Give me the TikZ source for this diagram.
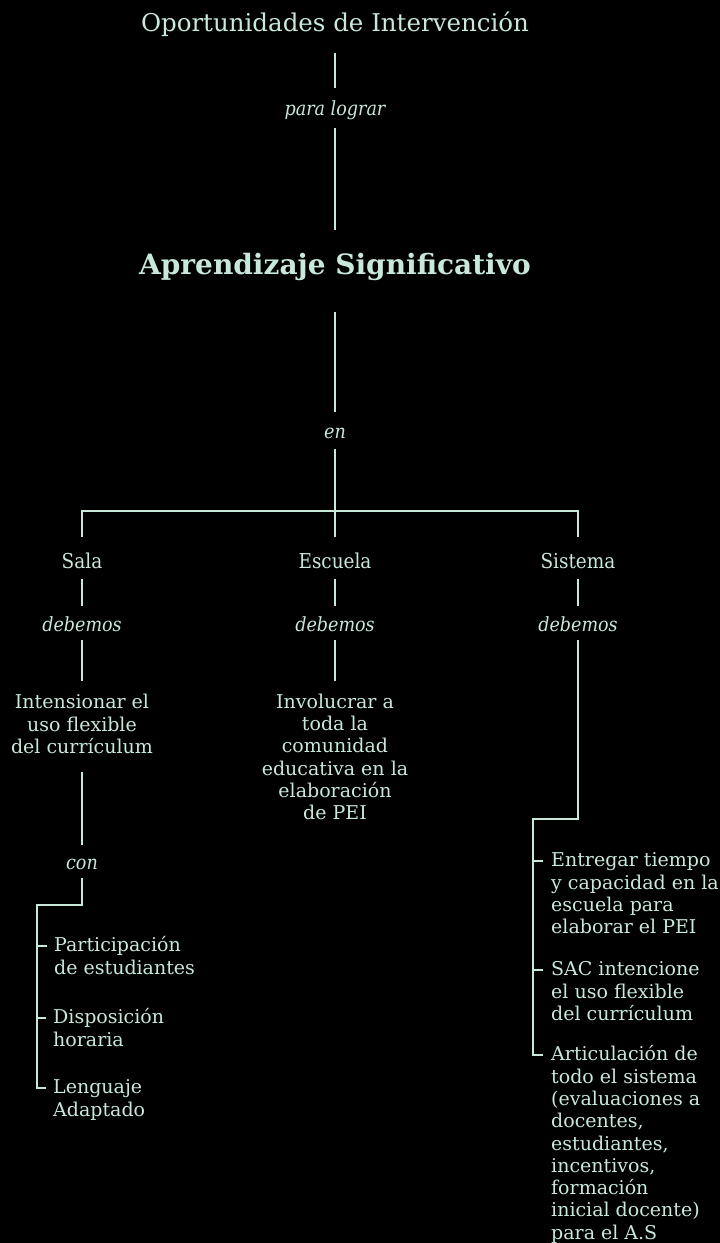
\documentclass[tikz,border=0pt]{standalone}
\usepackage{fontspec}
\setmainfont{DejaVu Serif}
\newfontfamily\condfont{DejaVu Serif Condensed}
\usetikzlibrary{positioning}
\definecolor{mint}{HTML}{C8E8DA}

\tikzset{
	link/.style={draw=mint, line width=1.3pt},
	txt/.style={text=mint, inner sep=0pt},
	titletext/.style={txt, font=\fontsize{24.5}{28}\selectfont},
	bigtext/.style={txt, font=\bfseries\fontsize{28}{32}\selectfont},
	lvltext/.style={txt, font=\condfont\fontsize{20.5}{24}\selectfont},
	verbtext/.style={txt, font=\condfont\itshape\fontsize{19.5}{24}\selectfont},
	body/.style={txt, align=center, font=\fontsize{19}{22.3}\selectfont},
	item/.style={txt, align=left, anchor=north west, font=\fontsize{19}{22.3}\selectfont}
}

\begin{document}
\begin{tikzpicture}[x=1pt,y=1pt]
	\fill[black] (0,0) rectangle (720,-1243);
	\useasboundingbox (0,0) rectangle (720,-1243);

	% cabecera
	\node[titletext] (title) at (335,-24) {Oportunidades de Intervención};
	\node[verbtext] (lograr) at (335,-110) {para lograr};
	\node[bigtext] (aprend) at (335,-267) {Aprendizaje Significativo};
	\node[verbtext] (en) at (335,-433) {en};
	\coordinate (branch) at (335,-511);

	\draw[link, shorten <=29pt, shorten >=22pt] (title.center) -- (lograr.center);
	\draw[link, shorten <=18pt, shorten >=37pt] (lograr.center) -- (aprend.center);
	\draw[link, shorten <=45pt, shorten >=21pt] (aprend.center) -- (en.center);
	\draw[link, shorten <=16pt] (en.center) -- (branch);

	% niveles
	\node[lvltext] (sala) at (82,-561) {Sala};
	\node[lvltext] (escuela) at (335,-561) {Escuela};
	\node[lvltext] (sistema) at (578,-561) {Sistema};
	\draw[link, shorten >=24pt] (branch) -| (sala.center);
	\draw[link, shorten >=24pt] (branch) -| (sistema.center);
	\draw[link, shorten >=24pt] (branch) -- (escuela.center);

	\foreach \lvl in {sala, escuela, sistema} {
		\node[verbtext] (deb\lvl) at (\lvl |- 0,-624) {debemos};
		\draw[link, shorten <=18pt, shorten >=18pt] (\lvl.center) -- (deb\lvl.center);
	}

	% sala
	\node[body] (intens) at (82,-724) {Intensionar el\\uso flexible\\del currículum};
	\node[verbtext] (con) at (82,-864) {con};
	\draw[link, shorten <=16pt, shorten >=43pt] (debsala.center) -- (intens.center);
	\draw[link, shorten <=48pt, shorten >=19pt] (intens.center) -- (con.center);

	\node[item] (part) at (54,-936) {\strut Participación\\de estudiantes};
	\node[item] (dispo) at (53,-1008) {\strut Disposición\\horaria};
	\node[item] (leng) at (53,-1078) {\strut Lenguaje\\Adaptado};
	\coordinate (conturn) at (37,-905);
	\draw[link, shorten <=14pt] (con.center) |- (conturn) |- ([xshift=-7pt,yshift=-10pt]leng.north west);
	\foreach \it in {part, dispo} {
		\draw[link] ([yshift=-10pt]\it.north west -| conturn) -- ([xshift=-7pt,yshift=-10pt]\it.north west);
	}

	% escuela
	\node[body] (involucrar) at (335,-757) {Involucrar a\\toda la\\comunidad\\educativa en la\\elaboración\\de PEI};
	\draw[link, shorten <=16pt, shorten >=76pt] (debescuela.center) -- (involucrar.center);

	% sistema
	\node[item] (entregar) at (551,-851) {\strut Entregar tiempo\\y capacidad en la\\escuela para\\elaborar el PEI};
	\node[item] (sac) at (551,-960) {\strut SAC intencione\\el uso flexible\\del currículum};
	\node[item] (artic) at (551,-1045) {\strut Articulación de\\todo el sistema\\(evaluaciones a\\docentes,\\estudiantes,\\incentivos,\\formación\\inicial docente)\\para el A.S};
	\coordinate (systurn) at (533,-819);
	\draw[link, shorten <=16pt] (debsistema.center) |- (systurn) |- ([xshift=-8pt,yshift=-10pt]artic.north west);
	\foreach \it in {entregar, sac} {
		\draw[link] ([yshift=-10pt]\it.north west -| systurn) -- ([xshift=-8pt,yshift=-10pt]\it.north west);
	}
\end{tikzpicture}
\end{document}
